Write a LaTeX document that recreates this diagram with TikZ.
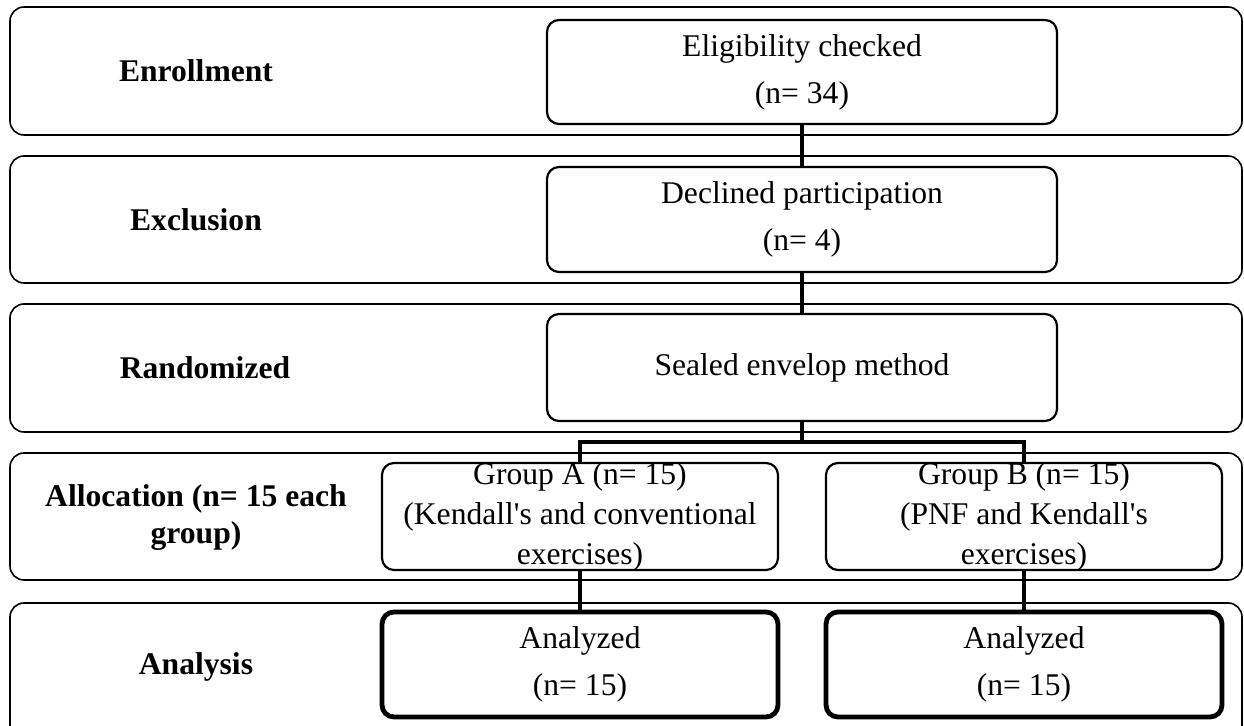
\documentclass[tikz,border=0pt]{standalone}
\usepackage{fontspec}
\setmainfont{Liberation Serif}[Ligatures=TeXOff]
\tikzset{
    rowbox/.style={draw, line width=.8pt, rounded corners=7pt, inner sep=0pt, minimum width=616pt},
    stepbox/.style={draw, line width=1.1pt, rounded corners=6pt, inner sep=0pt, minimum width=255pt,
        align=center, font=\fontsize{15.8}{23.5}\selectfont},
    groupbox/.style={stepbox, minimum width=198pt, minimum height=53.5pt},
    resultbox/.style={stepbox, line width=2.4pt, minimum width=198pt, minimum height=52.5pt},
    grouptext/.style={align=center, inner sep=0pt, font=\fontsize{15.8}{20}\selectfont},
    phase/.style={align=center, inner sep=0pt, font=\fontsize{15.8}{18.5}\selectfont\bfseries},
    conn/.style={line width=2.2pt}
}
\begin{document}
\begin{tikzpicture}[x=.5pt, y=-.5pt]
    \useasboundingbox (0,0) rectangle (1244,726);
    \clip (0,0) rectangle (1244,726);

        \node[rowbox, minimum height=64pt] (row1) at (626,71) {};
        \node[rowbox, minimum height=63.5pt] (row2) at (626,219.5) {};
        \node[rowbox, minimum height=64pt] (row3) at (626,368) {};
        \node[rowbox, minimum height=63.5pt] (row4) at (626,516.5) {};
        \node[rowbox, minimum height=68.5pt] (row5) at (626,671.5) {};

        \node[phase] (enroll) at (196,71) {Enrollment};
        \node[phase] (exclude) at (196,219.5) {Exclusion};
        \node[phase] (random) at (205,368) {Randomized};
        \node[phase] (alloc) at (196,518) {Allocation (n= 15 each\\group)};
        \node[phase] (analysis) at (196,667) {Analysis};

        \node[stepbox, minimum height=52pt] (elig) at (802,72) {Eligibility checked\\(n= 34)};
        \node[stepbox, minimum height=52.5pt] (decl) at (802,219.5) {Declined participation\\(n= 4)};
        \node[stepbox, minimum height=53.5pt] (seal) at (802,367.5) {Sealed envelop method};

        \node[groupbox] (grpA) at (580,516.5) {};
        \node[grouptext] (grpAtxt) at (grpA.center) {Group A (n= 15)\\(Kendall's and conventional\\exercises)};
        \node[groupbox] (grpB) at (1024,516.5) {};
        \node[grouptext] (grpBtxt) at (grpB.center) {Group B (n= 15)\\(PNF and Kendall's\\exercises)};

        \node[resultbox] (anaA) at (580,664.5) {Analyzed\\(n= 15)};
        \node[resultbox] (anaB) at (1024,664.5) {Analyzed\\(n= 15)};

        \coordinate (split) at (802,442);
        \draw[conn] (elig.south) -- (decl.north);
        \draw[conn] (decl.south) -- (seal.north);
        \draw[conn] (seal.south) -- (split);
        \draw[conn] (grpA.north) |- (split) -| (grpB.north);
        \draw[conn] (grpA.south) -- (anaA.north);
        \draw[conn] (grpB.south) -- (anaB.north);
\end{tikzpicture}
\end{document}
